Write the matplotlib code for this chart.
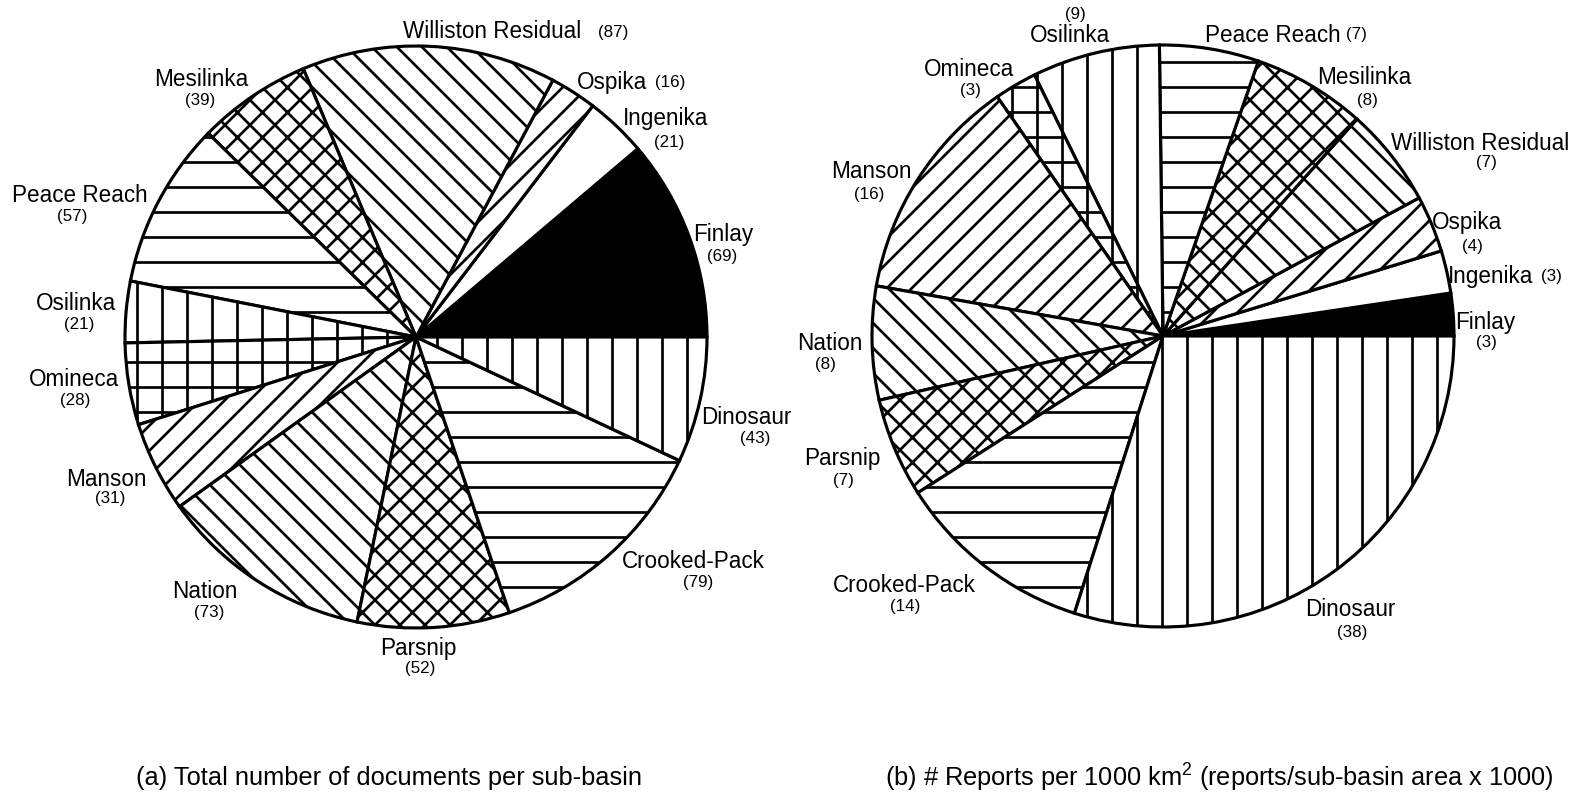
import matplotlib
matplotlib.use('Agg')
import matplotlib.pyplot as plt

plt.rcParams['font.family'] = ['Liberation Sans', 'DejaVu Sans']
plt.rcParams['mathtext.fontset'] = 'custom'
plt.rcParams['mathtext.rm'] = 'Liberation Sans'
plt.rcParams['mathtext.it'] = 'Liberation Sans:italic'
plt.rcParams['hatch.linewidth'] = 1.3

# sub-basins, going counter-clockwise from 3 o'clock
basins = ["Finlay", "Ingenika", "Ospika", "Williston Residual", "Mesilinka",
          "Peace Reach", "Osilinka", "Omineca", "Manson", "Nation",
          "Parsnip", "Crooked-Pack", "Dinosaur"]
docs = [69, 21, 16, 87, 39, 57, 21, 28, 31, 73, 52, 79, 43]
reports = [3, 3, 4, 7, 8, 7, 9, 3, 16, 8, 7, 14, 38]

# diagonal hatches doubled so every pattern has the same line spacing
hatches = ['', '', '//', '\\\\', 'xx', '-', '|', '+', '//', '\\\\', 'xx', '-', '|']
fills = ['black'] + ['white'] * 12

# label positions in pixels of the 1585x795 picture: (name x, y, value x, y)
lab_a = [(723, 235, 722, 256), (666, 119, 669, 143), (612, 82, 670, 82),
         (492, 32, 613, 32), (201, 80, 200, 100), (80, 195, 72, 217),
         (76, 303, 79, 324), (74, 380, 75, 401), (106, 480, 110, 499),
         (205, 592, 209, 612), (418, 648, 420, 668), (693, 562, 698, 582),
         (746, 417, 755, 438)]
lab_b = [(1485, 322, 1486, 343), (1491, 277, 1551, 277), (1467, 222, 1472, 247),
         (1480, 143, 1486, 163), (1364, 78, 1367, 100), (1273, 35, 1356, 35),
         (1070, 36, 1075, 15), (969, 70, 970, 91), (871, 172, 869, 194),
         (830, 344, 825, 365), (842, 458, 843, 480), (904, 585, 905, 606),
         (1350, 610, 1352, 632)]

W, H = 1585, 795
fig = plt.figure(figsize=(W / 150, H / 150), dpi=150)


def pie_at(cx, cy, r, values, labels):
    ax = fig.add_axes([(cx - r) / W, (H - cy - r) / H, 2 * r / W, 2 * r / H])
    ax.pie(values, colors=fills, hatch=hatches, startangle=0, counterclock=True,
           wedgeprops=dict(edgecolor='black', linewidth=1.5))
    ax.set_xlim(-1, 1)
    ax.set_ylim(-1, 1)
    ax.axis('off')
    for name, v, (nx, ny, vx, vy) in zip(basins, values, labels):
        fig.text(nx / W, 1 - ny / H, name, ha='center', va='center', fontsize=10.8)
        fig.text(vx / W, 1 - vy / H, '(%d)' % v, ha='center', va='center', fontsize=8.2)


pie_at(416, 337, 291, docs, lab_a)
pie_at(1163, 336, 291, reports, lab_b)

fig.text(136 / W, 1 - 778 / H, "(a) Total number of documents per sub-basin",
         ha='left', va='center', fontsize=12.2)
fig.text(885 / W, 1 - 778 / H,
         r"(b) # Reports per 1000 km$^{2}$ (reports/sub-basin area x 1000)",
         ha='left', va='center', fontsize=12.2)

fig.savefig('out.png', dpi=150)
